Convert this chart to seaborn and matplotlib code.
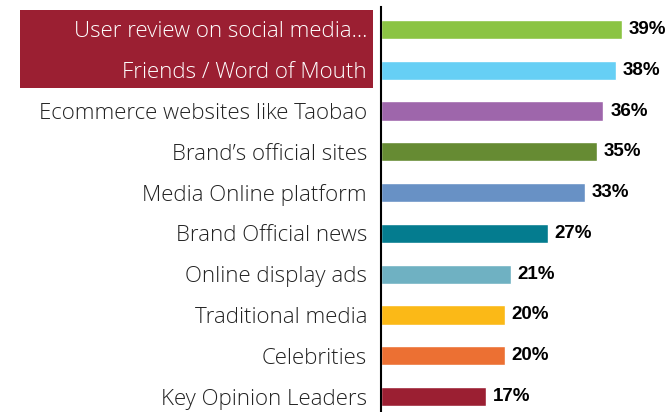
import matplotlib
matplotlib.use("Agg")
import matplotlib.pyplot as plt
import seaborn as sns
import pandas as pd
from matplotlib.patches import Rectangle

categories = ["User review on social media...", "Friends / Word of Mouth",
              "Ecommerce websites like Taobao", "Brand\u2019s official sites",
              "Media Online platform", "Brand Official news", "Online display ads",
              "Traditional media", "Celebrities", "Key Opinion Leaders"]
values = [39, 38, 36, 35, 33, 27, 21, 20, 20, 17]
colors = ["#8BC443", "#66CFF5", "#9E66AB", "#668B33", "#6891C5",
          "#047C8F", "#6FB1C2", "#FBB917", "#EC7033", "#9B1F32"]
highlighted = 2

df = pd.DataFrame({"source": categories, "share": values})

sns.set_style("white")
plt.rcParams['font.family'] = ['Open Sans', 'DejaVu Sans']

W, H = 667, 412
fig = plt.figure(figsize=(W / 100, H / 100), dpi=100)
ax = fig.add_axes([381 / W, 0, 1 - 381 / W, 1 - 7 / H])

sns.barplot(data=df, y="source", x="share", hue="source", palette=colors,
            orient="h", width=0.47, legend=False, ax=ax, saturation=1)

ax.set_xlim(0, 46.3)
ax.set_ylim(9.38, -0.55)
ax.set_xlabel("")
ax.set_ylabel("")
ax.set_xticks([])
for s in ["top", "right", "bottom"]:
    ax.spines[s].set_visible(False)
ax.spines["left"].set_color("black")
ax.spines["left"].set_linewidth(1.5)

ax.tick_params(axis="y", length=0, pad=10, labelsize=16, labelcolor="#222222")
for i, lab in enumerate(ax.get_yticklabels()):
    lab.set_fontweight("light")
    if i < highlighted:
        lab.set_color("white")

# highlight box behind first two labels
fig.patches.append(Rectangle((20 / W, 1 - 88 / H), 353 / W, 78 / H,
                             transform=fig.transFigure, facecolor="#9B1F32",
                             edgecolor="none", zorder=-1))

for i, v in enumerate(values):
    ax.text(v + 1.1, i, f"{v}%", va="center", ha="left", fontsize=13.5,
            fontweight="bold", color="black",
            family=['Liberation Sans Narrow', 'Liberation Sans', 'DejaVu Sans'])

fig.savefig("out.png", dpi=100)
